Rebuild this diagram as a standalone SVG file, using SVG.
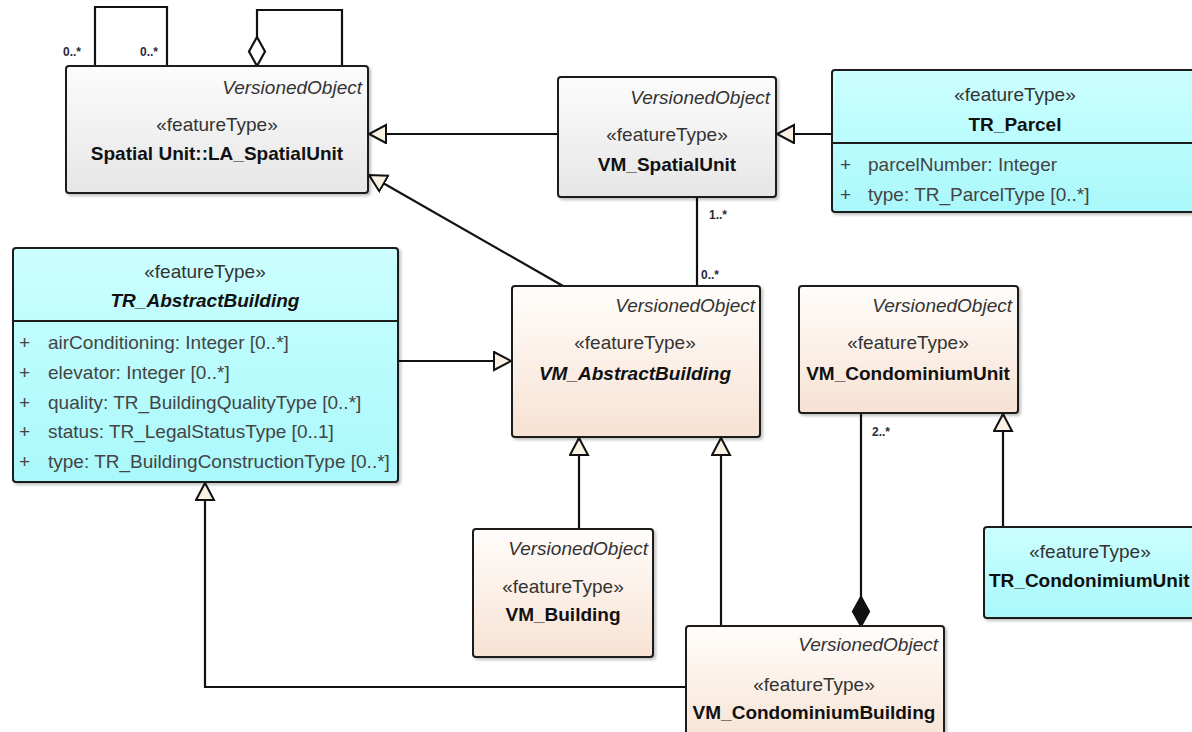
<svg xmlns="http://www.w3.org/2000/svg" width="1192" height="732" viewBox="0 0 1192 732">
  <defs>
    <linearGradient id="gGrey" x1="0" y1="0" x2="0" y2="1">
      <stop offset="0" stop-color="#fcfcfc"/>
      <stop offset="1" stop-color="#e6e6e6"/>
    </linearGradient>
    <linearGradient id="gPeach" x1="0" y1="0" x2="0" y2="1">
      <stop offset="0" stop-color="#fffdfb"/>
      <stop offset="1" stop-color="#f7e2d3"/>
    </linearGradient>
    <linearGradient id="gCyan" x1="0" y1="0" x2="0" y2="1">
      <stop offset="0" stop-color="#ccffff"/>
      <stop offset="1" stop-color="#a9f8fb"/>
    </linearGradient>
    <filter id="shadow" x="-5%" y="-5%" width="112%" height="115%">
      <feDropShadow dx="2" dy="2" stdDeviation="1.5" flood-color="#000" flood-opacity="0.25"/>
    </filter>
    <marker id="gen" markerWidth="22" markerHeight="22" refX="18" refY="10" orient="auto" markerUnits="userSpaceOnUse">
      <path d="M1,1 L18,10 L1,19 Z" fill="#fbf1e3" stroke="#111" stroke-width="2" stroke-linejoin="miter"/>
    </marker>
  </defs>
  <style>
    .box { stroke: #1c1c1c; stroke-width: 2; filter: url(#shadow); }
    .grey { fill: url(#gGrey); }
    .peach { fill: url(#gPeach); }
    .cyan { fill: url(#gCyan); }
    .div { stroke: #1c1c1c; stroke-width: 2; }
    text { font-family: "Liberation Sans", Arial, sans-serif; font-size: 19px; fill: #1e1e1e; }
    .vo { font-style: italic; text-anchor: end; fill: #333; }
    .st { text-anchor: middle; fill: #333; }
    .nm { text-anchor: middle; font-weight: bold; fill: #111; }
    .it { font-style: italic; }
    .at { fill: #444; }
    .mult { font-size: 12px; font-weight: bold; fill: #2a2a3a; }
    .conn line, .conn polyline, .conn path { stroke: #111; stroke-width: 2.2; fill: none; }
  </style>

  <!-- connectors -->
  <g class="conn">
    <!-- LA_SpatialUnit self association -->
    <polyline points="95,66 95,7 167,7 167,66"/>
    <!-- LA_SpatialUnit self aggregation -->
    <polyline points="257,38 257,10 342,10 342,66"/>
    <path d="M257,37 L265,51.5 L257,66 L249,51.5 Z" style="fill:#fff"/>
    <!-- VM_SpatialUnit -> LA_SpatialUnit -->
    <line x1="558" y1="134" x2="369" y2="134" marker-end="url(#gen)"/>
    <!-- TR_Parcel -> VM_SpatialUnit -->
    <line x1="832" y1="134" x2="777" y2="134" marker-end="url(#gen)"/>
    <!-- VM_AbstractBuilding -> LA_SpatialUnit -->
    <line x1="563" y1="286" x2="369" y2="175" marker-end="url(#gen)"/>
    <!-- VM_SpatialUnit - VM_AbstractBuilding -->
    <line x1="697" y1="197" x2="697" y2="286"/>
    <!-- TR_AbstractBuilding -> VM_AbstractBuilding -->
    <line x1="398" y1="361" x2="511" y2="361" marker-end="url(#gen)"/>
    <!-- VM_Building -> VM_AbstractBuilding -->
    <line x1="579" y1="529" x2="579" y2="438" marker-end="url(#gen)"/>
    <!-- VM_CondominiumBuilding -> VM_AbstractBuilding -->
    <line x1="721" y1="626" x2="721" y2="438" marker-end="url(#gen)"/>
    <!-- VM_CondominiumBuilding -> TR_AbstractBuilding -->
    <polyline points="686,687 205,687 205,483" marker-end="url(#gen)"/>
    <!-- VM_CondominiumBuilding composition VM_CondominiumUnit -->
    <line x1="861" y1="413" x2="861" y2="598"/>
    <path d="M861,597 L869,611.5 L861,626 L853,611.5 Z" style="fill:#111"/>
    <!-- TR_CondonimiumUnit -> VM_CondominiumUnit -->
    <line x1="1003" y1="527" x2="1003" y2="414" marker-end="url(#gen)"/>
  </g>

  <!-- multiplicities -->
  <g id="labels">
    <text class="mult" x="63" y="56">0..*</text>
    <text class="mult" x="140" y="56">0..*</text>
    <text class="mult" x="709" y="219">1..*</text>
    <text class="mult" x="701" y="279">0..*</text>
    <text class="mult" x="872" y="436">2..*</text>
  </g>

  <g id="LA_SpatialUnit">
    <rect class="box grey" x="66" y="66" width="302" height="127" rx="3"/>
    <text class="vo" x="362" y="94">VersionedObject</text>
    <text class="st" x="217" y="131">«featureType»</text>
    <text class="nm" x="217" y="160">Spatial Unit::LA_SpatialUnit</text>
  </g>

  <g id="VM_SpatialUnit">
    <rect class="box grey" x="558" y="77" width="218" height="120" rx="3"/>
    <text class="vo" x="770" y="104">VersionedObject</text>
    <text class="st" x="667" y="141">«featureType»</text>
    <text class="nm" x="667" y="171">VM_SpatialUnit</text>
  </g>

  <g id="TR_Parcel">
    <rect class="box cyan" x="832" y="70" width="370" height="142" rx="3"/>
    <line class="div" x1="832" y1="143" x2="1200" y2="143"/>
    <text class="st" x="1015" y="101">«featureType»</text>
    <text class="nm" x="1015" y="131">TR_Parcel</text>
    <text class="at" x="840" y="171">+</text>
    <text class="at" x="868" y="171">parcelNumber: Integer</text>
    <text class="at" x="840" y="201">+</text>
    <text class="at" x="868" y="201">type: TR_ParcelType [0..*]</text>
  </g>

  <g id="TR_AbstractBuilding">
    <rect class="box cyan" x="13" y="248" width="385" height="234" rx="3"/>
    <line class="div" x1="13" y1="321" x2="398" y2="321"/>
    <text class="st" x="205" y="278">«featureType»</text>
    <text class="nm it" x="205" y="307">TR_AbstractBuilding</text>
    <text class="at" x="19" y="349">+</text>
    <text class="at" x="48" y="349">airConditioning: Integer [0..*]</text>
    <text class="at" x="19" y="379">+</text>
    <text class="at" x="48" y="379">elevator: Integer [0..*]</text>
    <text class="at" x="19" y="409">+</text>
    <text class="at" x="48" y="409">quality: TR_BuildingQualityType [0..*]</text>
    <text class="at" x="19" y="438">+</text>
    <text class="at" x="48" y="438">status: TR_LegalStatusType [0..1]</text>
    <text class="at" x="19" y="468">+</text>
    <text class="at" x="48" y="468">type: TR_BuildingConstructionType [0..*]</text>
  </g>

  <g id="VM_AbstractBuilding">
    <rect class="box peach" x="512" y="286" width="248" height="151" rx="3"/>
    <text class="vo" x="755" y="312">VersionedObject</text>
    <text class="st" x="635" y="349">«featureType»</text>
    <text class="nm it" x="635" y="380">VM_AbstractBuilding</text>
  </g>

  <g id="VM_CondominiumUnit">
    <rect class="box peach" x="799" y="286" width="219" height="127" rx="3"/>
    <text class="vo" x="1012" y="312">VersionedObject</text>
    <text class="st" x="908" y="349">«featureType»</text>
    <text class="nm" x="908" y="380">VM_CondominiumUnit</text>
  </g>

  <g id="VM_Building">
    <rect class="box peach" x="473" y="529" width="180" height="128" rx="3"/>
    <text class="vo" x="648" y="555">VersionedObject</text>
    <text class="st" x="563" y="593">«featureType»</text>
    <text class="nm" x="563" y="621">VM_Building</text>
  </g>

  <g id="VM_CondominiumBuilding">
    <rect class="box peach" x="686" y="626" width="258" height="120" rx="3"/>
    <text class="vo" x="938" y="651">VersionedObject</text>
    <text class="st" x="814" y="691">«featureType»</text>
    <text class="nm" x="814" y="719">VM_CondominiumBuilding</text>
  </g>

  <g id="TR_CondonimiumUnit">
    <rect class="box cyan" x="984" y="527" width="220" height="91" rx="3"/>
    <text class="st" x="1090" y="558">«featureType»</text>
    <text class="nm" x="989" y="587" style="text-anchor:start">TR_CondonimiumUnit</text>
  </g>
</svg>
